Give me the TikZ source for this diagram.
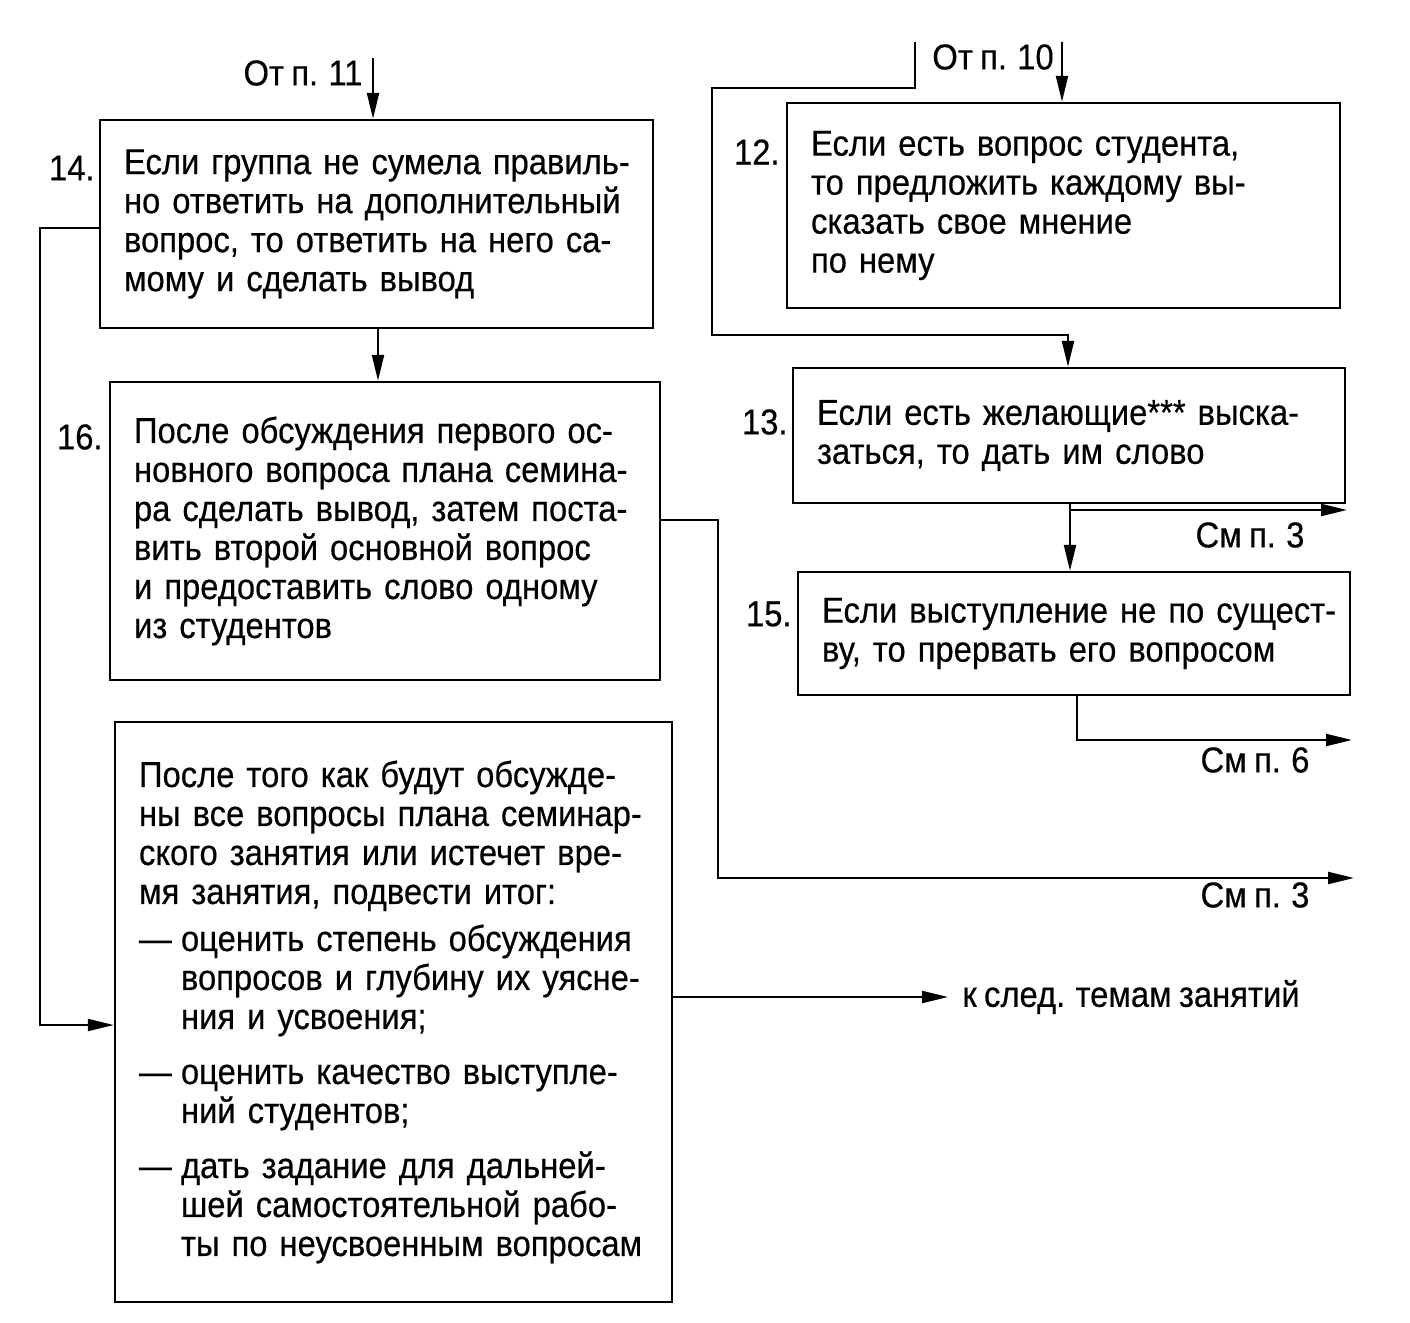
\documentclass[tikz,border=0pt]{standalone}
\usepackage{fontspec}
\setmainfont[FakeStretch=0.91,WordSpace=0.8,FakeBold=0.4]{Liberation Sans}
\usetikzlibrary{arrows.meta,calc}
\newcommand{\oneline}[1]{\mbox{#1}}
\tikzset{
  box/.style={draw, line width=1.2pt, align=left, inner xsep=12pt, inner ysep=0pt,
    font=\fontsize{18}{19.5}\selectfont},
  lab/.style={font=\fontsize{18}{19.5}\selectfont, inner sep=0pt},
  arr/.style={line width=1.1pt, -{Triangle[length=13pt,width=6pt]}}
}
\begin{document}
\begin{tikzpicture}[x=0.5pt,y=-0.5pt]
\fill[white] (0,0) rectangle (1410,1323);
\useasboundingbox (0,0) rectangle (1410,1323);

% boxes
\node[box, minimum width=276.5pt, minimum height=104pt, text width=252.5pt] (b14) at (376.5,224)
 {\oneline{Если группа не сумела правиль-}\\\oneline{но ответить на дополнительный}\\\oneline{вопрос, то ответить на него са-}\\\oneline{мому и сделать вывод}};
\node[box, minimum width=275pt, minimum height=149pt, text width=251pt] (b16) at (385,531)
 {\oneline{После обсуждения первого ос-}\\\oneline{новного вопроса плана семина-}\\\oneline{ра сделать вывод, затем поста-}\\\oneline{вить второй основной вопрос}\\\oneline{и предоставить слово одному}\\\oneline{из студентов}};
\node[box, minimum width=278.5pt, minimum height=290pt, text width=254.5pt] (b17) at (393.5,1012)
 {\oneline{После того как будут обсужде-}\\\oneline{ны все вопросы плана семинар-}\\\oneline{ского занятия или истечет вре-}\\\oneline{мя занятия, подвести итог:}\\[4pt]
 \oneline{\makebox[21pt][l]{—}оценить степень обсуждения}\\\oneline{\hspace*{21pt}вопросов и глубину их уясне-}\\\oneline{\hspace*{21pt}ния и усвоения;}\\[8pt]
 \oneline{\makebox[21pt][l]{—}оценить качество выступле-}\\\oneline{\hspace*{21pt}ний студентов;}\\[8pt]
 \oneline{\makebox[21pt][l]{—}дать задание для дальней-}\\\oneline{\hspace*{21pt}шей самостоятельной рабо-}\\\oneline{\hspace*{21pt}ты по неусвоенным вопросам}};
\node[box, minimum width=276.5pt, minimum height=102.5pt, text width=252.5pt] (b12) at (1063.5,205.5)
 {\oneline{Если есть вопрос студента,}\\\oneline{то предложить каждому вы-}\\\oneline{сказать свое мнение}\\\oneline{по нему}};
\node[box, minimum width=276pt, minimum height=67.5pt, text width=252pt] (b13) at (1069,435.5)
 {\oneline{Если есть желающие*** выска-}\\\oneline{заться, то дать им слово}};
\node[box, minimum width=276pt, minimum height=61.5pt, text width=252pt] (b15) at (1074,633.5)
 {\oneline{Если выступление не по сущест-}\\\oneline{ву, то прервать его вопросом}};

% number labels
\node[lab, anchor=east] (n14) at (95,168) {14.};
\node[lab, anchor=east] (n16) at (103,437) {16.};
\node[lab, anchor=east] (n12) at (780,152) {12.};
\node[lab, anchor=east] (n13) at (788,422) {13.};
\node[lab, anchor=east] (n15) at (792,614) {15.};

% external labels
\node[lab] (t11) at (303,73) {От п. 11};
\node[lab] (t10) at (993,57) {От п. 10};
\node[lab] (s3a) at (1250,535) {См п. 3};
\node[lab] (s6) at (1255,760) {См п. 6};
\node[lab] (s3b) at (1255,895) {См п. 3};
\node[lab, anchor=west, inner xsep=7pt] (next) at (948,997) {к след. темам занятий};

% coordinates
\coordinate (in11) at (373,58);
\coordinate (in10) at (1062,42);
\coordinate (loopstart) at (915,42);
\coordinate (o13) at (1347,510);
\coordinate (o15) at (1352,740);
\coordinate (o16) at (1354,878);

% connectors
\draw[arr] (in11) -- (in11 |- b14.north);
\draw[arr] (378,0 |- b14.south) -- (378,0 |- b16.north);
\draw[arr] (b14.west |- 0,228) -- (40,228) -- (40,1025) -- (b17.west |- 0,1025);
\draw[arr] (b16.east |- 0,520) -- (718,520) -- (718,878) -- (o16);
\draw[arr] (b17.east |- next.west) -- (next.west);

\draw[arr] (in10) -- (in10 |- b12.north);
\draw[arr] (loopstart) -- (915,88) -- (712,88) -- (712,335) -- (1068,335) -- (1068,0 |- b13.north);
\draw[arr] (1070,0 |- b13.south) -- (1070,0 |- b15.north);
\draw[arr] (1070,510) -- (o13);
\draw[arr] (1077,0 |- b15.south) -- (1077,740) -- (o15);
\end{tikzpicture}
\end{document}
